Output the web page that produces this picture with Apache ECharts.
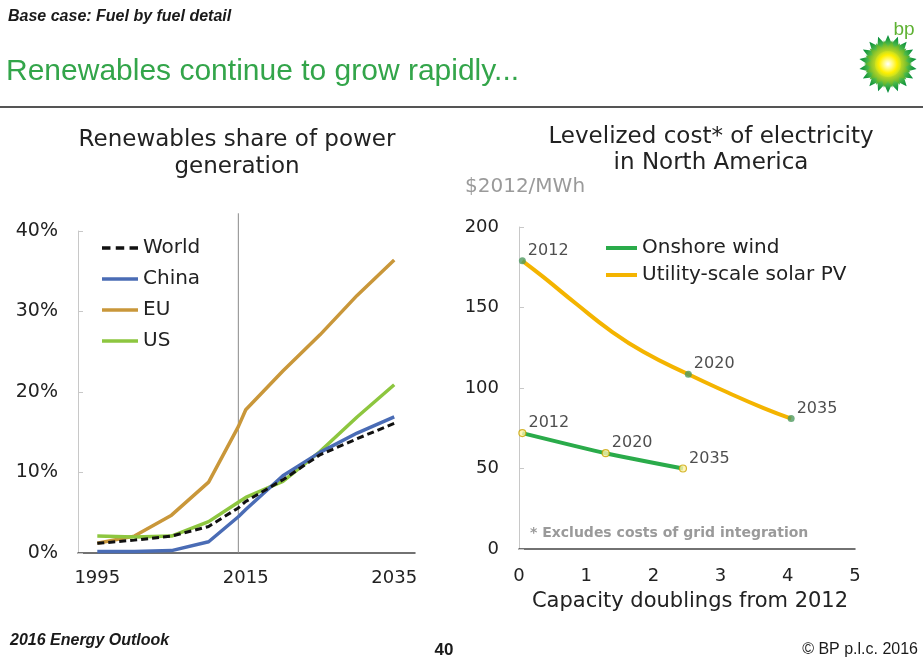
<!DOCTYPE html>
<html>
<head>
<meta charset="utf-8">
<script src="https://cdn.jsdelivr.net/npm/echarts@6/dist/echarts.min.js"></script>
<style>
html,body{margin:0;padding:0;background:#fff;}
#chart{width:923px;height:657px;}
</style>
</head>
<body>
<div id="chart"></div>
<script>
// ---- Left chart: renewables share of power generation (%) ----
const years = [1995, 2000, 2005, 2010, 2014, 2015, 2020, 2025, 2030, 2035];
const worldShare = [1.2, 1.6, 2.1, 3.3, 5.6, 6.4, 9.1, 12.2, 14.2, 16.1];
const chinaShare = [0.2, 0.2, 0.3, 1.4, 4.5, 5.4, 9.6, 12.5, 14.9, 16.9];
const euShare    = [1.2, 2.1, 4.7, 8.8, 15.7, 17.8, 22.6, 27.1, 32.0, 36.4];
const usShare    = [2.1, 2.0, 2.1, 3.9, 6.3, 6.9, 8.9, 12.6, 16.9, 20.9];
const yearTicks = [1995, 2015, 2035];
const historyEndYear = 2014;

// ---- Right chart: levelized cost, $2012/MWh vs capacity doublings ----
const solarDoublings = [0.05, 0.36, 0.86, 1.35, 1.85, 2.52, 3.09, 3.64, 4.05];
const solarCost      = [179, 169, 152, 136, 122.5, 108.5, 97.5, 87.5, 81];
const solarPointX    = [0.05, 2.52, 4.05];
const solarPointY    = [179, 108.5, 81];
const windDoublings  = [0.05, 1.29, 2.44];
const windCost       = [72, 59.5, 50];
const pointYears     = ['2012', '2020', '2035'];

const FONT = '"DejaVu Sans", "Liberation Sans", sans-serif';
const SANS = '"Liberation Sans", Arial, sans-serif';

function zip(xs, ys) { return xs.map((x, i) => [x, ys[i]]); }

function starPoints(cx, cy, n, rOut, rIn, rot) {
  const pts = [];
  for (let i = 0; i < n * 2; i++) {
    const a = rot + i * Math.PI / n;
    const r = i % 2 === 0 ? rOut : rIn;
    pts.push([cx + r * Math.sin(a), cy - r * Math.cos(a)]);
  }
  return pts;
}
const helioGrad = {type: 'radial', x: 0.5, y: 0.5, r: 0.5, colorStops: [
  {offset: 0, color: '#ffffff'}, {offset: 0.2, color: '#fff200'},
  {offset: 0.45, color: '#c4dc1e'}, {offset: 0.7, color: '#4cb848'},
  {offset: 1, color: '#008a3a'}]};
const helioGrad2 = {type: 'radial', x: 0.5, y: 0.5, r: 0.5, colorStops: [
  {offset: 0, color: '#ffffff'}, {offset: 0.3, color: '#fff200'},
  {offset: 0.65, color: '#9fcc2a'}, {offset: 1, color: '#3aa935'}]};
const helioGrad3 = {type: 'radial', x: 0.5, y: 0.5, r: 0.5, colorStops: [
  {offset: 0, color: '#ffffff'}, {offset: 0.35, color: '#fffb80'},
  {offset: 0.7, color: '#fff000'}, {offset: 1, color: '#c8e020'}]};

function txt(text, x, y, size, opts) {
  opts = opts || {};
  return {
    type: 'text', x: x, y: y, silent: true,
    style: {
      text: text, fontSize: size, fontFamily: opts.family || FONT,
      fontStyle: opts.style || 'normal', fontWeight: opts.weight || 'normal',
      fill: opts.color || '#222',
      textAlign: opts.align || 'left', align: opts.align || 'left',
      textVerticalAlign: 'middle', verticalAlign: 'middle'
    }
  };
}

const DASH_ICON = 'path://M0,0H8V2H0Z M13,0H21V2H13Z M26,0H34V2H26Z';

const chart = echarts.init(document.getElementById('chart'), null, {renderer: 'canvas'});

const option = {
  animation: false,
  backgroundColor: '#ffffff',
  textStyle: {fontFamily: FONT},
  grid: [
    {left: 78, top: 231, width: 337, height: 322},
    {left: 519, top: 227, width: 336, height: 322}
  ],
  xAxis: [
    {gridIndex: 0, type: 'value', min: 1992.4, max: 2037.8,
     axisLine: {show: true, lineStyle: {color: '#444', width: 1.5}},
     axisTick: {show: false}, splitLine: {show: false},
     axisLabel: {customValues: yearTicks, formatter: function (v) { return String(v); },
                 fontSize: 18, color: '#222', margin: 16}},
    {gridIndex: 1, type: 'value', min: 0, max: 5, interval: 1,
     axisLine: {show: true, lineStyle: {color: '#444', width: 1.5}},
     axisTick: {show: false}, splitLine: {show: false},
     axisLabel: {fontSize: 18, color: '#222', margin: 18}}
  ],
  yAxis: [
    {gridIndex: 0, type: 'value', min: 0, max: 40, interval: 10,
     axisLine: {show: true, lineStyle: {color: '#c8c8c8'}},
     axisTick: {show: true, inside: true, length: 5, lineStyle: {color: '#c8c8c8'}},
     splitLine: {show: false},
     axisLabel: {formatter: '{value}%', fontSize: 19, color: '#222', margin: 20}},
    {gridIndex: 1, type: 'value', min: 0, max: 200, interval: 50,
     axisLine: {show: true, lineStyle: {color: '#c8c8c8'}},
     axisTick: {show: true, inside: true, length: 5, lineStyle: {color: '#c8c8c8'}},
     splitLine: {show: false},
     axisLabel: {fontSize: 18, color: '#222', margin: 20}}
  ],
  legend: [
    {data: [{name: 'World', icon: DASH_ICON}, {name: 'China', icon: 'rect'},
            {name: 'EU', icon: 'rect'}, {name: 'US', icon: 'rect'}],
     orient: 'vertical', left: 97, top: 233, symbolKeepAspect: false,
     itemWidth: 36, itemHeight: 3.5, itemGap: 11,
     textStyle: {fontSize: 20, color: '#222', fontFamily: FONT}},
    {data: [{name: 'Onshore wind', icon: 'rect'}, {name: 'Utility-scale solar PV', icon: 'rect'}],
     orient: 'vertical', left: 601, top: 233, symbolKeepAspect: false,
     itemWidth: 31, itemHeight: 4, itemGap: 7,
     textStyle: {fontSize: 20, color: '#222', fontFamily: FONT}}
  ],
  series: [
    {name: 'divider', type: 'line', xAxisIndex: 0, yAxisIndex: 0, clip: false, silent: true,
     symbol: 'none', lineStyle: {color: '#8a8a8a', width: 1},
     data: [[historyEndYear, 0], [historyEndYear, 42.2]], z: 1},
    {name: 'EU', type: 'line', xAxisIndex: 0, yAxisIndex: 0, symbol: 'none',
     color: '#c9973a', lineStyle: {width: 3.5, color: '#c9973a'}, data: zip(years, euShare)},
    {name: 'US', type: 'line', xAxisIndex: 0, yAxisIndex: 0, symbol: 'none',
     color: '#8dc63f', lineStyle: {width: 3.5, color: '#8dc63f'}, data: zip(years, usShare)},
    {name: 'China', type: 'line', xAxisIndex: 0, yAxisIndex: 0, symbol: 'none',
     color: '#4a6cb5', lineStyle: {width: 3.5, color: '#4a6cb5'}, data: zip(years, chinaShare)},
    {name: 'World', type: 'line', xAxisIndex: 0, yAxisIndex: 0, symbol: 'none',
     color: '#111111', lineStyle: {width: 3, color: '#111111', type: [7, 4]}, data: zip(years, worldShare)},

    {name: 'Onshore wind', type: 'line', xAxisIndex: 1, yAxisIndex: 1, symbol: 'none', smooth: 0.2,
     color: '#2aab4a', lineStyle: {width: 4, color: '#2aab4a'}, data: zip(windDoublings, windCost)},
    {name: 'Utility-scale solar PV', type: 'line', xAxisIndex: 1, yAxisIndex: 1, symbol: 'none', smooth: true,
     color: '#f4b400', lineStyle: {width: 4, color: '#f4b400'}, data: zip(solarDoublings, solarCost)},
    {name: 'wind points', type: 'scatter', xAxisIndex: 1, yAxisIndex: 1, symbolSize: 7,
     itemStyle: {color: '#fff3a8', borderColor: '#c9a400', borderWidth: 1.2},
     label: {show: true, position: 'right', distance: 2, offset: [0, -10], formatter: '{b}',
             fontSize: 16, color: '#222', fontFamily: FONT},
     data: windDoublings.map((x, i) => ({value: [x, windCost[i]], name: pointYears[i]})), z: 5},
    {name: 'solar points', type: 'scatter', xAxisIndex: 1, yAxisIndex: 1, symbolSize: 7,
     itemStyle: {color: '#4f9a60'},
     label: {show: true, position: 'right', distance: 2, offset: [0, -10], formatter: '{b}',
             fontSize: 16, color: '#222', fontFamily: FONT},
     data: solarPointX.map((x, i) => ({value: [x, solarPointY[i]], name: pointYears[i]})), z: 5}
  ],
  graphic: [
    txt('Base case: Fuel by fuel detail', 8, 17, 16, {family: SANS, style: 'italic', weight: 'bold', color: '#1a1a1a'}),
    txt('Renewables continue to grow rapidly...', 6, 72, 30, {family: SANS, color: '#33a54a'}),
    {type: 'line', silent: true, shape: {x1: 0, y1: 107, x2: 923, y2: 107},
     style: {stroke: '#555', lineWidth: 2}},
    {type: 'polygon', silent: true, shape: {points: starPoints(888, 64, 18, 29, 21, 0)},
     style: {fill: helioGrad}},
    {type: 'polygon', silent: true, shape: {points: starPoints(888, 64, 18, 24, 17, Math.PI / 18)},
     style: {fill: helioGrad2}},
    {type: 'circle', silent: true, shape: {cx: 888, cy: 64, r: 13}, style: {fill: helioGrad3}},
    txt('bp', 904, 30, 19, {family: SANS, color: '#5fb233', align: 'center'}),

    txt('Renewables share of power', 237, 140, 23, {align: 'center', color: '#222'}),
    txt('generation', 237, 167, 23, {align: 'center', color: '#222'}),
    txt('Levelized cost* of electricity', 711, 137, 23, {align: 'center', color: '#222'}),
    txt('in North America', 711, 163, 23, {align: 'center', color: '#222'}),
    txt('$2012/MWh', 465, 187, 20, {color: '#9a9a9a'}),
    txt('Capacity doublings from 2012', 690, 602, 21, {align: 'center', color: '#222'}),
    txt('* Excludes costs of grid integration', 530, 533, 14, {weight: 'bold', color: '#9a9a9a'}),

    txt('2016 Energy Outlook', 10, 641, 16, {family: SANS, style: 'italic', weight: 'bold', color: '#1a1a1a'}),
    txt('40', 444, 650, 17, {family: SANS, weight: 'bold', color: '#1a1a1a', align: 'center'}),
    txt('\u00A9 BP p.l.c. 2016', 918, 650, 16, {family: SANS, color: '#1a1a1a', align: 'right'})
  ]
};

chart.setOption(option);
</script>
</body>
</html>
